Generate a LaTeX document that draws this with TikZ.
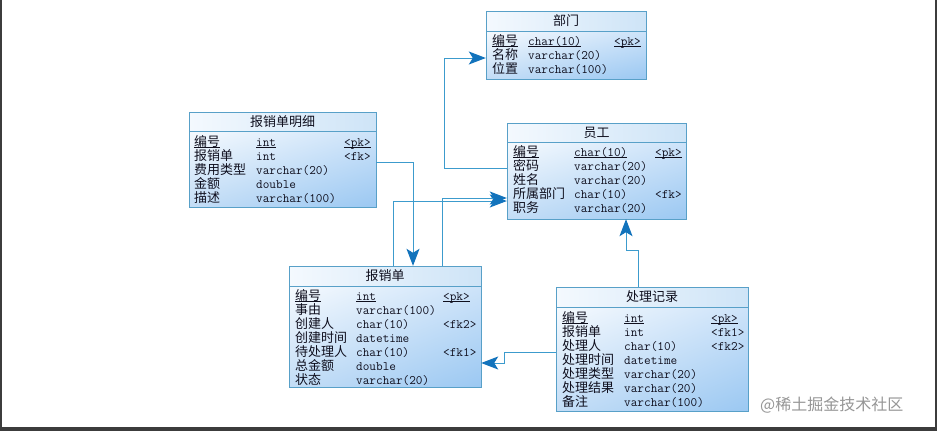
\documentclass[tikz,border=0pt]{standalone}
\usepackage{fontspec}
\newfontfamily\cjk{Noto Sans CJK SC}
\usetikzlibrary{arrows.meta,fit,shadings}
\definecolor{bord}{RGB}{88,160,200}
\definecolor{hdA}{RGB}{244,249,254}
\definecolor{hdB}{RGB}{206,228,247}
\definecolor{bdA}{RGB}{246,250,254}
\definecolor{bdB}{RGB}{205,227,249}
\definecolor{bdC}{RGB}{195,221,246}
\definecolor{bdD}{RGB}{155,200,242}
\definecolor{conncol}{RGB}{60,155,205}
\definecolor{tipcol}{RGB}{18,115,188}
\definecolor{txt}{RGB}{15,15,30}
\definecolor{frame}{RGB}{60,60,60}
\definecolor{wm}{RGB}{150,150,150}
\newcommand\ulx[1]{\setbox0\hbox{#1}\rlap{\rule[-1.6pt]{\wd0}{0.7pt}}\box0}
\newcommand\erbox[7]{%
  \shade[upper left=bdA, upper right=bdB, lower left=bdC, lower right=bdD] (#2,#6) rectangle (#4,#5);
  \shade[upper left=hdA, upper right=hdB, lower left=hdA, lower right=hdB] (#2,#3) rectangle (#4,#6);
  \draw[boxline] (#2,#3) rectangle (#4,#5);
  \draw[boxline] (#2,#6) -- (#4,#6);
  \node[fit={(#2,#3) (#4,#5)}, inner sep=0pt] (#1) {};
  \node[titletext] (#1-title) at ({(#2+#4)/2},{(#3+#6)/2}) {#7};
}
\newcommand\errows[5]{%
  \foreach \na/\ty/\ke [count=\i from 0] in {#5} {
    \node[cellcjk] at (#1,{#4+4.5+\i*14}) {\na};
    \node[cellmono] at (#2,{#4+4.5+\i*14}) {\ty};
    \node[cellmono] at (#3,{#4+4.5+\i*14}) {\ke};
  }
}
\begin{document}
\begin{tikzpicture}[x=1pt,y=-1pt,
  boxline/.style={draw=bord, line width=1pt},
  titletext/.style={inner sep=0pt, text=txt, font=\cjk\fontsize{13}{14}\selectfont},
  cellcjk/.style={anchor=base west, inner sep=0pt, text=txt, font=\cjk\fontsize{13}{14}\selectfont},
  cellmono/.style={anchor=base west, inner sep=0pt, text=txt, font=\ttfamily\fontsize{12.9}{14}\selectfont},
  conn/.style={draw=conncol, line width=1pt, -{Stealth[length=17pt,width=13pt,inset=4pt,fill=tipcol,color=tipcol]}},
]
\useasboundingbox (0,0) rectangle (937,431);
\fill[white] (0,0) rectangle (937,431);
\fill[frame] (0,0) rectangle (2,431);
\fill[frame] (935,0) rectangle (937,431);
\fill[frame] (0,427) rectangle (937,431);

% tables
\erbox{dept}{486}{11}{646}{79}{31}{部门}
\errows{492}{528}{614}{40.5}{\ulx{编号}/\ulx{char(10)}/\ulx{<pk>}, 名称/varchar(20)/{}, 位置/varchar(100)/{}}

\erbox{detail}{189}{112}{376}{207}{131}{报销单明细}
\errows{194}{256}{344}{141.5}{\ulx{编号}/\ulx{int}/\ulx{<pk>}, 报销单/int/<fk>, 费用类型/varchar(20)/{}, 金额/double/{}, 描述/varchar(100)/{}}

\erbox{emp}{507}{123}{686}{219}{142}{员工}
\errows{513}{574}{655}{151.5}{\ulx{编号}/\ulx{char(10)}/\ulx{<pk>}, 密码/varchar(20)/{}, 姓名/varchar(20)/{}, 所属部门/char(10)/<fk>, 职务/varchar(20)/{}}

\erbox{rep}{289}{266}{481}{387}{286}{报销单}
\errows{295}{356}{443}{295.5}{\ulx{编号}/\ulx{int}/\ulx{<pk>}, 事由/varchar(100)/{}, 创建人/char(10)/<fk2>, 创建时间/datetime/{}, 待处理人/char(10)/<fk1>, 总金额/double/{}, 状态/varchar(20)/{}}

\erbox{proc}{556}{287}{748}{411}{307}{处理记录}
\errows{562}{624}{711}{317.5}{\ulx{编号}/\ulx{int}/\ulx{<pk>}, 报销单/int/<fk1>, 处理人/char(10)/<fk2>, 处理时间/datetime/{}, 处理类型/varchar(20)/{}, 处理结果/varchar(20)/{}, 备注/varchar(100)/{}}

% connectors
\draw[conn] (emp.west |- 0,168) -| (444,58) -- (dept.west |- 0,58);
\draw[conn] (detail.east |- 0,162) -| (413,0 |- rep.north);
\draw[conn] (393,0 |- rep.north) |- (emp.west |- 0,201);
\draw[conn] (442,0 |- rep.north) |- (emp.west |- 0,198);
\draw[conn] (638,0 |- proc.north) -- (638,250) -| (626,0 |- emp.south);
\draw[conn] (proc.west |- 0,352) -| (504,363) -- (rep.east |- 0,363);

% watermark text
\node[anchor=west, inner sep=0pt, text=wm, font=\cjk\fontsize{16}{18}\selectfont] (wmtext) at (760,405) {@稀土掘金技术社区};
\end{tikzpicture}
\end{document}
